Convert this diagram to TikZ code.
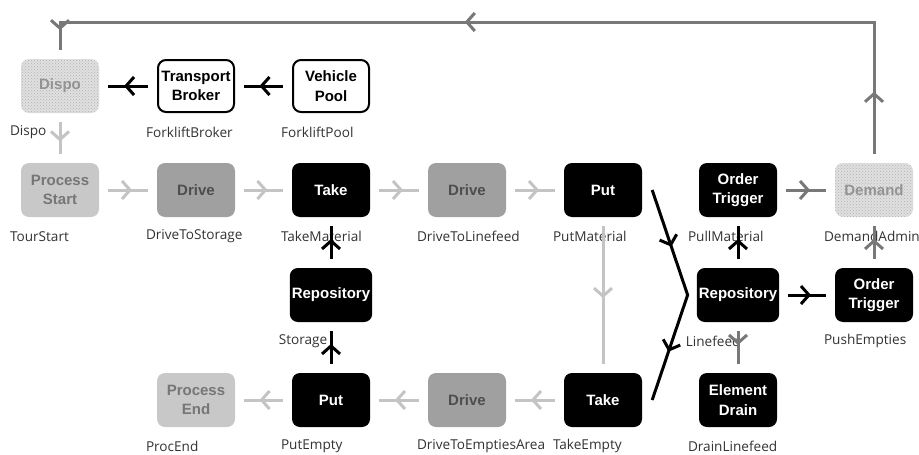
\documentclass[tikz,border=0pt]{standalone}
\usepackage{fontspec}
\setmainfont{Liberation Sans}
\newfontfamily\tagfont{Open Sans}
\usetikzlibrary{arrows.meta,calc,decorations.markings,patterns}
\definecolor{palegray}{RGB}{200,200,200}
\definecolor{palefont}{RGB}{118,118,118}
\definecolor{midgray}{RGB}{160,160,160}
\definecolor{midfont}{RGB}{78,78,78}
\definecolor{lightline}{RGB}{196,196,196}
\definecolor{darkline}{RGB}{120,120,120}
\definecolor{tagfont}{RGB}{50,50,50}
\tikzset{
	box/.style={rectangle,rounded corners=8pt,minimum width=78pt,minimum height=54pt,
		inner sep=2pt,align=center,font=\fontsize{15}{19.5}\selectfont\bfseries},
	blackbox/.style={box,fill=black,text=white},
	whitebox/.style={box,draw=black,line width=2pt,fill=white,text=black,
		minimum width=76pt,minimum height=52pt},
	drivebox/.style={box,fill=midgray,text=midfont},
	procbox/.style={box,fill=palegray,text=palefont},
	dotbox/.style={box,fill=gray!24,text=gray!85!white,
		postaction={pattern=crosshatch dots,pattern color=gray!60}},
	tag/.style={anchor=west,inner sep=0pt,text=tagfont,
		font=\tagfont\fontsize{13.6}{16}\selectfont},
	conn/.style={line width=3pt,shorten <=9pt,shorten >=9pt},
	pale/.style={conn,draw=lightline},
	dark/.style={conn,draw=darkline},
	solid black/.style={conn,draw=black},
	chev/.style={postaction={decorate},decoration={markings,
		mark=at position #1 with {\arrow{Straight Barb[length=8pt,width=18pt]}}}},
	chev/.default=0.57
}
\begin{document}
\begin{tikzpicture}[x=1pt,y=-1pt]
	\useasboundingbox (0,0) rectangle (919,455);
	\node[dotbox] (dispo) at (60,86) {Dispo};
	\node[whitebox] (broker) at (196,86) {Transport\\Broker};
	\node[whitebox] (pool) at (331,86) {Vehicle\\Pool};
	\node[procbox] (start) at (60,190) {Process\\Start};
	\node[drivebox] (driveS) at (196,190) {Drive};
	\node[blackbox] (takeM) at (331,190) {Take};
	\node[drivebox] (driveL) at (467,190) {Drive};
	\node[blackbox] (putM) at (603,190) {Put};
	\node[blackbox] (pull) at (738,190) {Order\\Trigger};
	\node[dotbox] (demand) at (874,190) {Demand};
	\node[blackbox] (storage) at (331,295) {Repository};
	\node[blackbox] (linefeed) at (738,295) {Repository};
	\node[blackbox] (push) at (874,295) {Order\\Trigger};
	\node[procbox] (procEnd) at (196,400) {Process\\End};
	\node[blackbox] (putE) at (331,400) {Put};
	\node[drivebox] (driveE) at (467,400) {Drive};
	\node[blackbox] (takeE) at (603,400) {Take};
	\node[blackbox] (drain) at (738,400) {Element\\Drain};
	\foreach \n/\t in {dispo/Dispo,broker/ForkliftBroker,pool/ForkliftPool,
		start/TourStart,driveS/DriveToStorage,takeM/TakeMaterial,
		driveL/DriveToLinefeed,putM/PutMaterial,pull/PullMaterial,
		demand/DemandAdmin,storage/Storage,linefeed/Linefeed,push/PushEmpties,
		procEnd/ProcEnd,putE/PutEmpty,driveE/DriveToEmptiesArea,
		takeE/TakeEmpty,drain/DrainLinefeed}
	{
		\node[tag] (t-\n) at ($(\n.south west)+(-11,19)$) {\t};
	}
	\coordinate (topR) at (874,22);
	\coordinate (topL) at (60,22);
	\coordinate (kink) at ($(linefeed.west)+(-9,0)$);
	\draw[dark,line join=miter,postaction={decorate},decoration={markings,
		mark=at position 71pt with {\arrow{Straight Barb[length=8pt,width=18pt]}},
		mark=at position 550pt with {\arrow{Straight Barb[length=8pt,width=18pt]}},
		mark=at position 963pt with {\arrow{Straight Barb[length=8pt,width=18pt]}}}]
		(demand.north) -- (topR) -- (topL) -- (dispo.north);
	\draw[solid black,chev] (pool) -- (broker);
	\draw[solid black,chev] (broker) -- (dispo);
	\draw[pale,chev] (dispo) -- (start);
	\draw[pale,chev] (start) -- (driveS);
	\draw[pale,chev] (driveS) -- (takeM);
	\draw[pale,chev] (takeM) -- (driveL);
	\draw[pale,chev] (driveL) -- (putM);
	\draw[pale,chev=0.52] (putM) -- (takeE);
	\draw[pale,chev] (takeE) -- (driveE);
	\draw[pale,chev] (driveE) -- (putE);
	\draw[pale,chev] (putE) -- (procEnd);
	\draw[solid black,chev] (putE) -- (storage);
	\draw[solid black,chev] (storage) -- (takeM);
	\draw[solid black,chev] (linefeed) -- (pull);
	\draw[solid black,chev] (linefeed) -- (push);
	\draw[dark,chev] (pull) -- (demand);
	\draw[dark,chev] (push) -- (demand);
	\draw[dark,chev=0.45] (linefeed) -- (drain);
	\draw[solid black,shorten <=0pt,shorten >=0pt,line join=miter,
		postaction={decorate},decoration={markings,
		mark=at position 0.27 with {\arrow{Straight Barb[length=8pt,width=18pt]}},
		mark=at position 0.77 with {\arrow{Straight Barb[length=8pt,width=18pt]}}}]
		($(putM.east)+(10,0)$) -- (kink) -- ($(takeE.east)+(10,0)$);
\end{tikzpicture}
\end{document}
